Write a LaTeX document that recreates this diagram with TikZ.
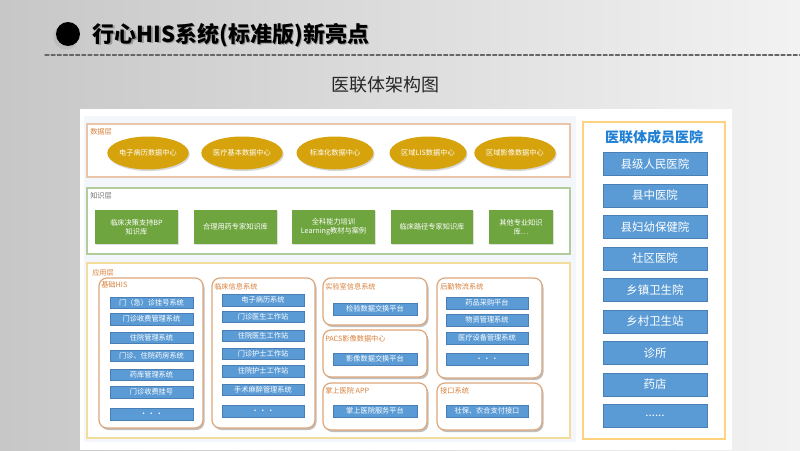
\documentclass[tikz,border=0pt]{standalone}
\usepackage{fontspec}
\setmainfont{Noto Sans CJK SC}
\usetikzlibrary{shapes.geometric,shadows,positioning}
\definecolor{hisgold}{HTML}{D6A30C}
\definecolor{hisgreen}{HTML}{6FA53F}
\definecolor{hisblue}{HTML}{5B9BD5}
\definecolor{hisblueline}{HTML}{4A7FB5}
\definecolor{hisorange}{HTML}{D9803A}
\definecolor{histan}{HTML}{DDA77C}
\definecolor{hisdata}{HTML}{E9C6AA}
\definecolor{hisknow}{HTML}{B3CC9B}
\definecolor{hisapp}{HTML}{F3DD9C}
\definecolor{hismember}{HTML}{FFD37E}
\definecolor{histitle}{HTML}{1F80D4}
\definecolor{hispale}{HTML}{F3F6FA}
\newcommand\hisdots{{\bfseries .\hspace{4pt}.\hspace{4pt}.}}
\newcommand\hismore{.\kern0pt.\kern0pt.\kern0pt.\kern0pt.\kern0pt.}
\begin{document}
\begin{tikzpicture}[x=0.75pt, y=-0.75pt, line cap=round,
    tiny/.style={font=\fontsize{5.4pt}{6.6pt}\selectfont},
    datacentre/.style={ellipse, fill=hisgold, text=white, tiny, inner sep=0pt,
      minimum width=57.75pt, minimum height=24.75pt,
      drop shadow={shadow xshift=0.8pt, shadow yshift=-1.2pt, opacity=0.3}},
    knowbox/.style={rectangle, fill=hisgreen, text=white, tiny, align=center,
      inner sep=1pt, minimum height=25.5pt,
      drop shadow={shadow xshift=0.6pt, shadow yshift=-0.8pt, opacity=0.25}},
    appbar/.style={rectangle, fill=hisblue, draw=hisblueline, line width=0.3pt,
      text=white, tiny, inner sep=0pt, minimum height=8.6pt},
    memberbar/.style={rectangle, fill=hisblue, draw=hisblueline, line width=0.4pt,
      text=white, font=\fontsize{8.6pt}{10pt}\selectfont, inner sep=0pt,
      minimum width=78pt, minimum height=17.5pt},
    layerlabel/.style={anchor=west, tiny, inner sep=0pt},
    apppanel/.style={draw=histan, line width=0.9pt, fill=white, rounded corners=6pt}]
  \useasboundingbox (0,0) rectangle (800,450);
  % --- fondo y cabecera
  \shade[left color=black!22, right color=black!5] (0,0) rectangle (800,450);
  \fill[black!30, opacity=0.5] (66,37) circle (9.5pt);
  \fill[black] (68,34) circle (9pt);
  \node[anchor=west, text=black!40, font=\bfseries\fontsize{16.5pt}{18pt}\selectfont]
       (titleshadow) at (89.5,36.5) {行心HIS系统(标准版)新亮点};
  \node[anchor=west, font=\bfseries\fontsize{16.5pt}{18pt}\selectfont]
       (title) at (88,35) {行心HIS系统(标准版)新亮点};
  \draw[black!60, dash pattern=on 3pt off 1.6pt, line width=0.8pt] (45,55) -- (800,55);
  \node[text=black!85, font=\fontsize{13.5pt}{15pt}\selectfont] (subtitle) at (385,85)
       {医联体架构图};
  % --- hoja blanca
  \fill[white] (80,109) rectangle (732,450);
  \fill[hispale] (84,116) rectangle (576,442);
  % --- capa de datos
  \draw[hisdata, fill=white, line width=1pt] (87,124) rectangle (570,177);
  \node[layerlabel, text=hisorange] (datalabel) at (90,132) {数据层};
  \foreach \cx/\txt [count=\i] in {148/电子病历数据中心, 242/医疗基本数据中心,
      335/标准化数据中心, 428/区域LIS数据中心, 515/区域影像数据中心}
    \node[datacentre] (data\i) at (\cx,153) {\txt};
  % --- capa de conocimiento
  \draw[hisknow, fill=white, line width=1pt] (87,188) rectangle (570,254);
  \node[layerlabel, text=black!55] (knowlabel) at (90,196) {知识层};
  \foreach \cx/\w/\txt [count=\i] in {136.5/62.25/{临床决策支持BP\\知识库},
      235.5/62.25/{合理用药专家知识库}, 333.5/62.25/{全科能力培训\\Learning教材与案例},
      432/61.5/{临床路径专家知识库}, 521/48/{其他专业知识\\库…}}
    \node[knowbox, minimum width=\w pt] (know\i) at (\cx,227) {\txt};
  % --- capa de aplicaciones
  \draw[hisapp, fill=white, line width=1pt] (87,263) rectangle (570,438);
  \node[layerlabel, text=hisorange] (applabel) at (92,273) {应用层};
  \foreach \xa/\ya/\xb/\yb in {99/278/203/428, 212/278/315/428, 323/278/427/325,
      323/330/427/377, 323/383/427/430, 437/278/542/378, 437/383/542/430} {
    \fill[black!25, rounded corners=6pt] (\xa+1.5,\ya+2) rectangle (\xb+1.5,\yb+2);
    \draw[apppanel] (\xa,\ya) rectangle (\xb,\yb);
  }
  \foreach \lx/\ly/\txt [count=\i] in {101/285/基础HIS, 214/287/临床信息系统,
      325/287/实验室信息系统, 325/339/PACS影像数据中心, 325/391/掌上医院 APP,
      440/287/后勤物流系统, 440/391/接口系统}
    \node[layerlabel, text=hisorange] (panel\i) at (\lx,\ly) {\txt};
  % --- barras de cada sistema
  \foreach \yy/\txt [count=\i] in {302.5/门（急）诊挂号系统, 319/门诊收费管理系统,
      337.5/住院管理系统, 355.5/门诊、住院药房系统, 374.5/药库管理系统,
      392/门诊收费挂号, 414/\hisdots}
    \node[appbar, minimum width=62.25pt] (base\i) at (151.5,\yy) {\txt};
  \foreach \yy/\txt [count=\i] in {300/电子病历系统, 316.5/门诊医生工作站,
      335.5/住院医生工作站, 353.5/门诊护士工作站, 371/住院护士工作站,
      389.5/手术麻醉管理系统, 411/\hisdots}
    \node[appbar, minimum width=61.5pt] (clinic\i) at (263,\yy) {\txt};
  \node[appbar, minimum width=63pt] (lab1) at (375,309) {检验数据交换平台};
  \node[appbar, minimum width=63pt] (pacs1) at (375,359) {影像数据交换平台};
  \node[appbar, minimum width=63pt] (mobile1) at (375,411) {掌上医院服务平台};
  \foreach \yy/\txt [count=\i] in {303/药品采购平台, 320/物资管理系统,
      338/医疗设备管理系统, 359/\hisdots}
    \node[appbar, minimum width=61.5pt] (logis\i) at (487,\yy) {\txt};
  \node[appbar, minimum width=61.5pt] (iface1) at (487,411) {社保、农合支付接口};
  % --- miembros del consorcio
  \draw[hismember, fill=white, line width=1pt] (583,122) rectangle (725,439);
  \node[text=histitle, font=\bfseries\fontsize{10.5pt}{12pt}\selectfont] (membertitle)
       at (654,137) {医联体成员医院};
  \foreach \txt [count=\i] in {县级人民医院, 县中医院, 县妇幼保健院, 社区医院,
      乡镇卫生院, 乡村卫生站, 诊所, 药店, \hismore}
    \node[memberbar] (member\i) at (655,{164+31.5*(\i-1)}) {\txt};
\end{tikzpicture}
\end{document}
